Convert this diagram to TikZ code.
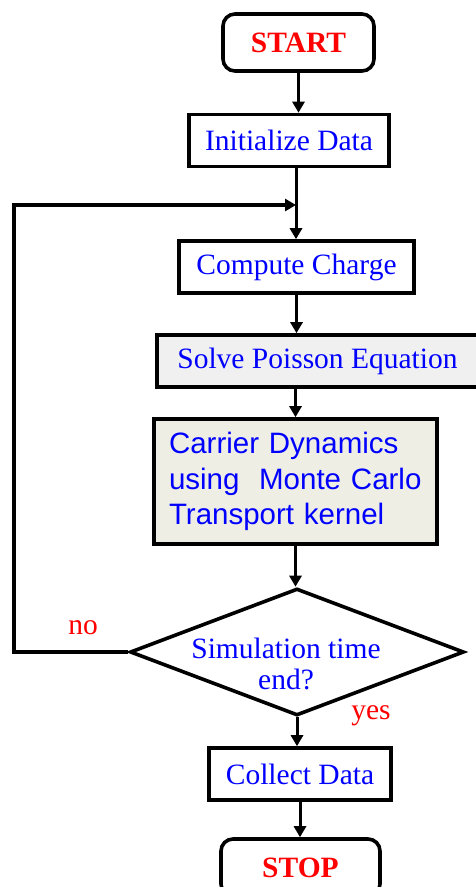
\documentclass[tikz,border=0pt]{standalone}
\usepackage{fontspec}
\setmainfont{Liberation Serif}
\newfontfamily\arialfont{Liberation Sans}
\usetikzlibrary{shapes.geometric,arrows.meta}
\definecolor{txtblue}{HTML}{0000FF}
\definecolor{txtred}{HTML}{FF0000}
\definecolor{poissonfill}{HTML}{F0F0F0}
\definecolor{kernelfill}{HTML}{EEEEE4}

\begin{document}
\begin{tikzpicture}[x=1pt, y=-1pt, font=\fontsize{29.5}{35.5}\selectfont,
    term/.style={draw, line width=3.6pt, rounded corners=12pt, minimum width=151pt,
                 minimum height=57pt, text=txtred, font=\fontsize{29.5}{35.5}\selectfont\bfseries},
    proc/.style={draw, line width=3.6pt, minimum height=52pt, text=txtblue, inner sep=0pt},
    dec/.style={draw, diamond, line width=3.6pt, minimum width=334pt, minimum height=127pt,
                inner sep=0pt},
    arr/.style={line width=3pt, -{Triangle[length=11pt,width=12pt]}},
    lbl/.style={text=txtred}]
    \useasboundingbox (0,0) rectangle (476,887);

    \node[term] (S) at (298.5,42.5) {START};
    \node[proc, minimum width=200pt] (I) at (289,140.5) {Initialize Data};
    \node[proc, minimum width=235pt] (C) at (296.5,267) {Compute Charge};
    \node[proc, minimum width=321pt, fill=poissonfill] (P) at (317.5,361) {Solve Poisson Equation};
    \node[proc, minimum width=283pt, minimum height=125pt, fill=kernelfill, text width=253pt,
          inner xsep=15pt, align=left, font=\arialfont\fontsize{29.5}{35.5}\selectfont]
          (M) at (295.5,481.5) {Carrier Dynamics\\using~ Monte Carlo\\Transport kernel};
    \node[dec] (D) at (297,652) {};
    \node[text=txtblue, align=center, font=\fontsize{29.5}{31}\selectfont] (Dt) at (286,664)
          {Simulation time\\end?};
    \node[proc, minimum width=182pt] (K) at (300,774) {Collect Data};
    \node[term, minimum width=159pt] (E) at (300.5,867.5) {STOP};

    \node[lbl] (no) at (83,628) {no};
    \node[lbl] (yes) at (371,716) {yes};

    \coordinate (J) at (296,205);
    \coordinate (L) at (14,205);

    \draw[arr] (S) -- (S |- I.north);
    \draw[arr] (J |- I.south) -- (J |- C.north);
    \draw[arr] (C) -- (C |- P.north);
    \draw[arr] (M |- P.south) -- (M);
    \draw[arr] (M) -- (M |- D.north);
    \draw[arr] (D) -- (D |- K.north);
    \draw[arr] (K) -- (K |- E.north);
    \draw[arr, line width=3.6pt] (D.west) -| (L) |- (J);
  \end{tikzpicture}
\end{document}
